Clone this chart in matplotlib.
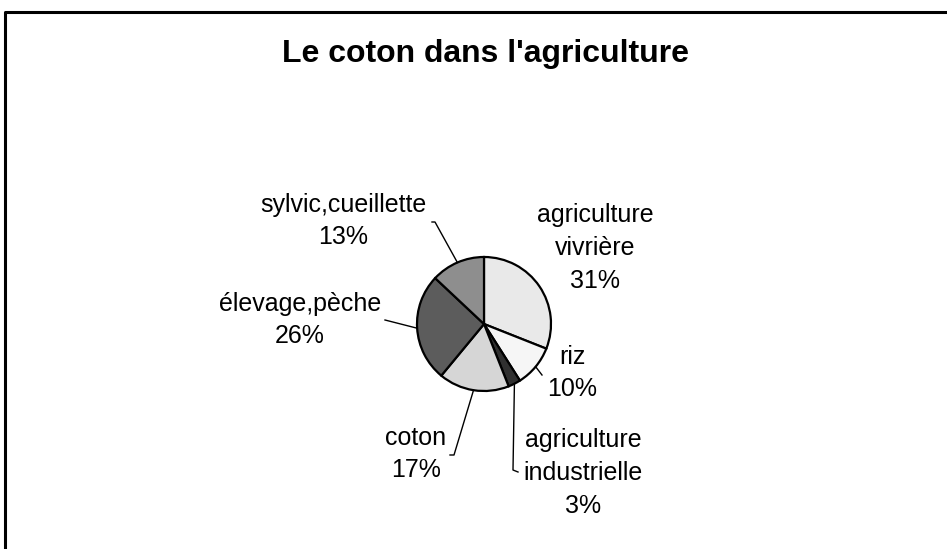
import numpy as np
import matplotlib.pyplot as plt

# Le coton dans l'agriculture (parts en %)
categories = ["agriculture\nvivrière", "riz", "agriculture\nindustrielle",
              "coton", "élevage,pèche", "sylvic,cueillette"]
values = [31, 10, 3, 17, 26, 13]
colors = ["#e9e9e9", "#f6f6f6", "#303030", "#d6d6d6", "#5c5c5c", "#8e8e8e"]

W, H = 947, 549
plt.rcParams['font.family'] = ['Liberation Sans', 'DejaVu Sans']

fig = plt.figure(figsize=(W / 100, H / 100), dpi=100)
ax = fig.add_axes([0, 0, 1, 1])

# frame of the chart area (only top and left edges visible)
ax.plot([5, 5, W + 5], [-5, H - 12, H - 12], color='black', lw=2.2)

cx, cy, r = 484, H - 324, 67
ax.pie(values, colors=colors, startangle=90, counterclock=False,
       center=(cx, cy), radius=r, frame=True,
       wedgeprops=dict(edgecolor='black', linewidth=1.6))
ax.set_xlim(0, W)
ax.set_ylim(0, H)
ax.set_aspect('equal')
ax.axis('off')

ax.text(485, H - 62, "Le coton dans l'agriculture", ha='center', va='baseline',
        fontsize=23, fontweight='bold')

# label positions (pixel coords of text centre) and leader elbows
label_pos = [(595, 248), (572, 373), (583, 473), (416, 454), (300, 320), (343, 221)]
leaders = [None,
           [(542, 375)],
           [(513, 470), (518, 472)],
           [(454, 455), (450, 455)],
           [(385, 320)],
           [(435, 222), (432, 222)]]

total = sum(values)
start = 90.0
for cat, v, (lx, ly), ld in zip(categories, values, label_pos, leaders):
    mid = start - 360.0 * v / total / 2
    start -= 360.0 * v / total
    txt = "%s\n%d%%" % (cat, round(100.0 * v / total))
    ax.text(lx, H - ly, txt, ha='center', va='center', fontsize=18,
            linespacing=1.45)
    if ld is not None:
        px = cx + r * np.cos(np.radians(mid))
        py = cy + r * np.sin(np.radians(mid))
        xs = [px] + [p[0] for p in ld]
        ys = [py] + [H - p[1] for p in ld]
        ax.plot(xs, ys, color='black', lw=1)

fig.savefig("out.png", dpi=100)
